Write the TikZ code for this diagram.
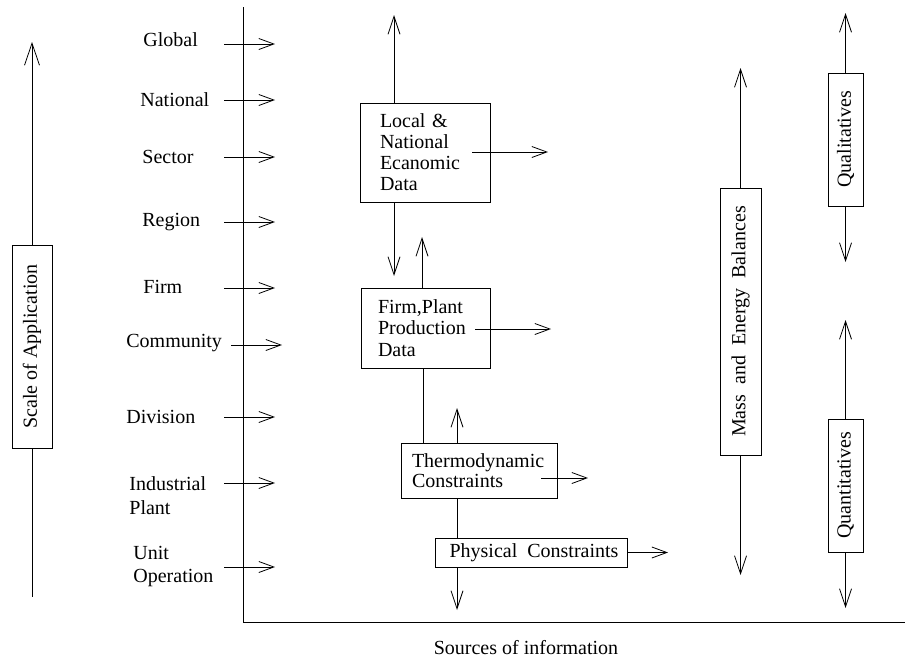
\documentclass[tikz,border=0pt]{standalone}
\usepackage{fontspec}
\setmainfont{Liberation Serif}
\usetikzlibrary{arrows.meta}
\begin{document}
\begin{tikzpicture}[x=1pt,y=-1pt,line width=0.8pt,
  every node/.style={font=\fontsize{20}{21}\selectfont, inner sep=0pt},
  arr/.style={-{Straight Barb[length=15pt,width=11pt]}},
  varr/.style={-{Straight Barb[length=18pt,width=12pt]}},
  bigarr/.style={-{Straight Barb[length=22pt,width=15pt]}},
  box/.style={draw, rectangle, align=left},
  vbox/.style={draw, rectangle, rotate=90, align=center},
  lbl/.style={anchor=west, align=left}]
\useasboundingbox (0,0) rectangle (908,659);

% axes
\coordinate (axtop) at (243,7);
\coordinate (axcor) at (243,622);
\coordinate (axend) at (905,622);
\draw (axtop) -- (axcor) -- (axend);

% scale of application
\node[vbox, minimum width=203pt, minimum height=40pt] (sc) at (32,346.5) {Scale of Application};
\coordinate (sctop) at (32,42);
\coordinate (scbot) at (32,597);
\draw[bigarr] (sc.east) -- (sctop);
\draw (sc.west) -- (scbot);

% level labels
\node[lbl] (glob) at (143,40) {Global};
\node[lbl] (nat) at (140,100) {National};
\node[lbl] (sec) at (142,157) {Sector};
\node[lbl] (reg) at (142,222) {Region};
\node[lbl] (firm) at (143,287) {Firm};
\node[lbl] (comm) at (126,343) {Community};
\node[lbl] (div) at (126,417) {Division};
\node[lbl, font=\fontsize{20}{24}\selectfont] (ind) at (129,496) {Industrial\\Plant};
\node[lbl, font=\fontsize{20}{23}\selectfont] (unit) at (133,566.5) {Unit\\Operation};

\draw[arr] (224,44) coordinate (g1) -- (275,44) coordinate (g2);
\draw[arr] (224,100) coordinate (n1) -- (275,100) coordinate (n2);
\draw[arr] (224,157) coordinate (s1) -- (275,157) coordinate (s2);
\draw[arr] (224,222) coordinate (r1) -- (275,222) coordinate (r2);
\draw[arr] (224,288) coordinate (f1) -- (275,288) coordinate (f2);
\draw[arr] (231,345) coordinate (c1) -- (282,345) coordinate (c2);
\draw[arr] (224,417) coordinate (d1) -- (275,417) coordinate (d2);
\draw[arr] (224,483) coordinate (i1) -- (275,483) coordinate (i2);
\draw[arr] (224,567) coordinate (u1) -- (275,567) coordinate (u2);

% central boxes
\node[box, minimum width=130pt, minimum height=99pt, text width=90pt] (loc) at (425,152.5)
  {Local \&\\National\\Ecanomic\\Data};
\node[box, minimum width=129pt, minimum height=80pt, text width=95pt, font=\fontsize{20}{21.5}\selectfont] (frm) at (425.5,328)
  {Firm,Plant\\Production\\Data};
\node[box, minimum width=156pt, minimum height=55pt, text width=134pt, font=\fontsize{20}{20}\selectfont] (thm) at (479,470.5)
  {Thermodynamic\\Constraints};
\node[draw, rectangle, minimum width=192pt, minimum height=29pt] (phy) at (531,552.5)
  {\hspace{6pt}Physical\ \ Constraints};

\coordinate (lu) at (394,15);
\coordinate (ld) at (394,276);
\draw[varr] (loc.north -| lu) -- (lu);
\draw[arr] (472,152) coordinate (lr1) -- (548,152) coordinate (lr2);
\draw[varr] (loc.south -| ld) -- (ld);

\coordinate (fu) at (422,237);
\draw[varr] (frm.north -| fu) -- (fu);
\draw[arr] (475,329) coordinate (fr1) -- (551,329) coordinate (fr2);
\coordinate (fl) at (423,400);
\draw (frm.south -| fl) -- (thm.north -| fl);

\coordinate (tu) at (457,408);
\draw[varr] (thm.north -| tu) -- (tu);
\draw[arr] (541,478) coordinate (tr1) -- (588,478) coordinate (tr2);
\draw (thm.south -| tu) -- (phy.north -| tu);

\coordinate (pr) at (668,552.5);
\draw[arr] (phy.east) -- (pr);
\coordinate (pd) at (457,610);
\draw[varr] (phy.south -| pd) -- (pd);

\node (src) at (526,648) {Sources of information};

% right side
\node[vbox, minimum width=267pt, minimum height=41pt] (mas) at (740.5,321.5) {Mass\ \ and\ \ Energy\ \ Balances};
\coordinate (mu) at (740.5,68);
\coordinate (md) at (740.5,575);
\draw[varr] (mas.east) -- (mu);
\draw[varr] (mas.west) -- (md);

\node[vbox, minimum width=133pt, minimum height=35pt] (qul) at (845.5,139.5) {Qualitatives};
\coordinate (qlu) at (845.5,13);
\coordinate (qld) at (845.5,262);
\draw[varr] (qul.east) -- (qlu);
\draw[varr] (qul.west) -- (qld);

\node[vbox, minimum width=133pt, minimum height=35pt] (qnt) at (845.5,485.5) {Quantitatives};
\coordinate (qnu) at (845.5,320);
\coordinate (qnd) at (845.5,608);
\draw[varr] (qnt.east) -- (qnu);
\draw[varr] (qnt.west) -- (qnd);
\end{tikzpicture}
\end{document}
